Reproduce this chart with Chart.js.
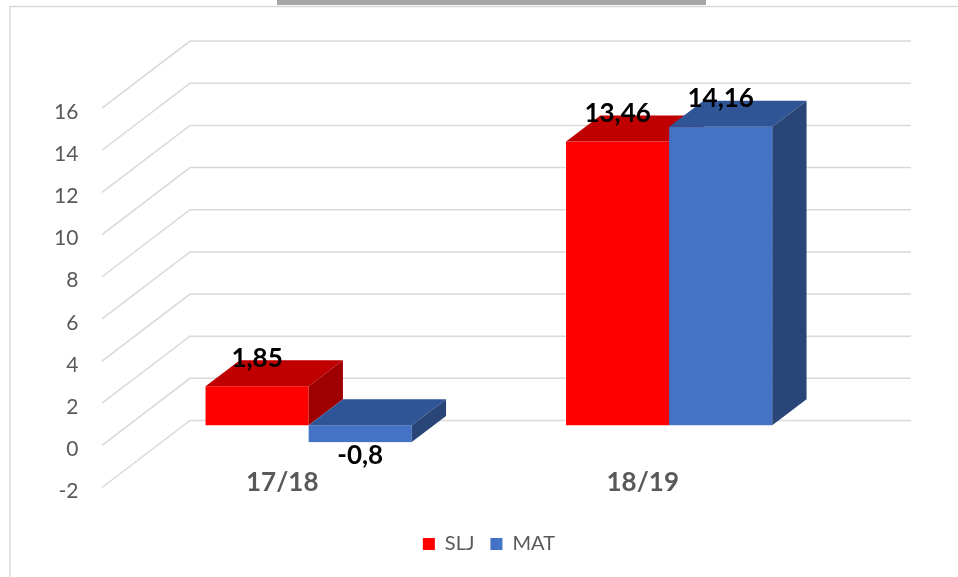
<!DOCTYPE html>
<html>
<head>
<meta charset="utf-8">
<title>SLJ / MAT</title>
<script src="https://cdn.jsdelivr.net/npm/chart.js@4.4.1/dist/chart.umd.min.js"></script>
<style>
  html, body { margin: 0; padding: 0; background: #fff; overflow: hidden; }
  canvas { display: block; }
</style>
</head>
<body>
<canvas id="chart" width="958" height="577"></canvas>
<script>
const categories = ['17/18', '18/19'];
const seriesNames = ['SLJ', 'MAT'];
const sljValues = [1.85, 13.46];
const matValues = [-0.8, 14.16];
const yMin = -2;
const yMax = 16;
const yStep = 2;

// front / top / side colour of each series
const faces = [
    { front: '#ff0000', top: '#c00000', side: '#9e0000' },
    { front: '#4472c4', top: '#2f5597', side: '#2a4678' }
];

// where the front wall, back wall and bar depth sit, relative to the bar front plane
const FRONT = [-26.4, 20.1];
const BACK = [61.6, -46.9];
const DEPTH = [34.3, -26.1];

function fmt(v) {
    return String(v).replace('.', ',');
}

const frame = {
    id: 'frame',
    beforeDraw(chart) {
        const c = chart.ctx;
        c.save();
        c.fillStyle = '#fff';
        c.fillRect(0, 0, chart.width, chart.height);
        c.fillStyle = '#a6a6a6';
        c.fillRect(277, 0, 429, 5);
        c.strokeStyle = '#d9d9d9';
        c.lineWidth = 1.5;
        c.beginPath();
        c.moveTo(10, chart.height);
        c.lineTo(10, 6.5);
        c.lineTo(chart.width, 6.5);
        c.stroke();
        c.restore();
    }
};

function drawBox(c, bar, col) {
    const l = bar.x - bar.width / 2;
    const r = bar.x + bar.width / 2;
    const t = Math.min(bar.y, bar.base);
    const b = Math.max(bar.y, bar.base);
    const [dx, dy] = DEPTH;

    c.fillStyle = col.front;
    c.fillRect(l, t, r - l, b - t);

    c.fillStyle = col.top;
    c.beginPath();
    c.moveTo(l, t);
    c.lineTo(l + dx, t + dy);
    c.lineTo(r + dx, t + dy);
    c.lineTo(r, t);
    c.closePath();
    c.fill();

    c.fillStyle = col.side;
    c.beginPath();
    c.moveTo(r, t);
    c.lineTo(r + dx, t + dy);
    c.lineTo(r + dx, b + dy);
    c.lineTo(r, b);
    c.closePath();
    c.fill();
}

const bars3d = {
    id: 'bars3d',
    beforeDatasetsDraw(chart) {
        const c = chart.ctx;
        const y = chart.scales.y;
        const { left, right } = chart.chartArea;

        c.save();
        // walls
        c.strokeStyle = '#d9d9d9';
        c.lineWidth = 1.5;
        y.ticks.forEach(t => {
            const py = y.getPixelForValue(t.value);
            c.beginPath();
            c.moveTo(left + FRONT[0], py + FRONT[1]);
            c.lineTo(left + BACK[0], py + BACK[1]);
            c.lineTo(right + BACK[0], py + BACK[1]);
            c.stroke();
        });

        // boxes, category by category
        categories.forEach((cat, j) => {
            chart.data.datasets.forEach((ds, i) => {
                drawBox(c, chart.getDatasetMeta(i).data[j], faces[i]);
            });
        });

        // value labels
        c.fillStyle = '#000';
        c.font = 'bold 26px Lato';
        c.textAlign = 'center';
        c.textBaseline = 'middle';
        chart.data.datasets.forEach((ds, i) => {
            chart.getDatasetMeta(i).data.forEach((bar, j) => {
                const v = ds.data[j];
                const ly = v >= 0 ? bar.y - 28 : bar.y + 14;
                c.fillText(fmt(v), bar.x, ly);
            });
        });
        c.restore();
        return false;
    }
};

function build() {
    new Chart(document.getElementById('chart'), {
        type: 'bar',
        data: {
            labels: categories,
            datasets: [
                { label: seriesNames[0], data: sljValues, backgroundColor: faces[0].front },
                { label: seriesNames[1], data: matValues, backgroundColor: faces[1].front }
            ]
        },
        plugins: [frame, bars3d],
        options: {
            responsive: false,
            animation: false,
            devicePixelRatio: 1,
            layout: { padding: { top: 88, left: 0, right: 108.6, bottom: 13 } },
            datasets: { bar: { barPercentage: 1, categoryPercentage: 0.572 } },
            scales: {
                x: {
                    grid: { display: false, drawTicks: false },
                    border: { display: false },
                    ticks: {
                        color: '#595959',
                        font: { family: 'Lato', size: 26, weight: 'bold' },
                        labelOffset: -26.4,
                        padding: 0
                    },
                    afterFit(s) { s.height = 50.6; }
                },
                y: {
                    min: yMin,
                    max: yMax,
                    grid: { display: false, drawTicks: false },
                    border: { display: false },
                    ticks: {
                        stepSize: yStep,
                        color: '#595959',
                        font: { family: 'Lato', size: 21 },
                        labelOffset: 24,
                        padding: 50
                    },
                    afterFit(s) { s.width = 128.4; }
                }
            },
            plugins: {
                legend: {
                    position: 'bottom',
                    fullSize: false,
                    labels: {
                        boxWidth: 12,
                        boxHeight: 12,
                        color: '#595959',
                        font: { family: 'Lato', size: 20 },
                        padding: 16
                    }
                },
                tooltip: { enabled: false }
            }
        }
    });
}

Promise.all([
    document.fonts.load('20px Lato'),
    document.fonts.load('bold 26px Lato')
]).then(build, build);
</script>
</body>
</html>
